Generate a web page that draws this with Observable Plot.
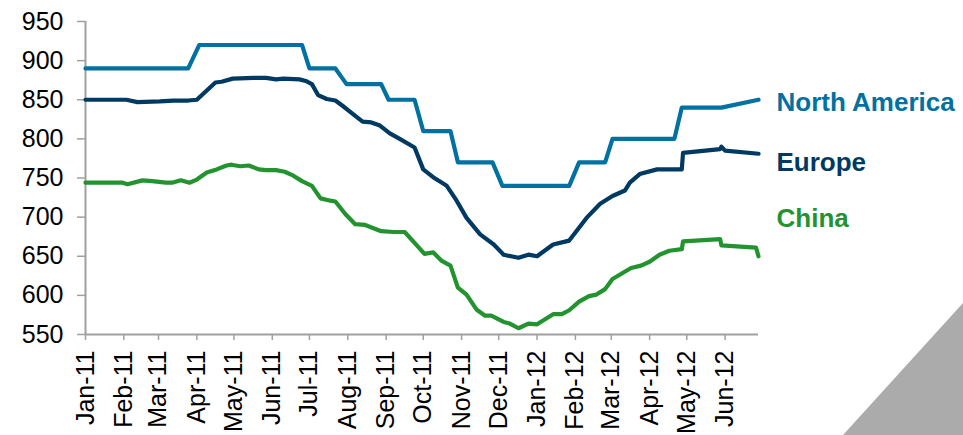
<!DOCTYPE html>
<html>
<head>
<meta charset="utf-8">
<script src="https://cdn.jsdelivr.net/npm/d3@7"></script>
<script src="https://cdn.jsdelivr.net/npm/@observablehq/plot@0.6"></script>
<style>
  html, body { margin: 0; padding: 0; background: #fff; }
  #wrap { position: relative; width: 963px; height: 435px; overflow: hidden; }
  #corner { position: absolute; left: 0; top: 0; width: 963px; height: 435px; background: #ABABAB;
            clip-path: polygon(963px 303px, 963px 435px, 843px 435px); pointer-events: none; }
  svg { display: block; }
</style>
</head>
<body>
<div id="wrap"><div id="chart"></div><div id="corner"></div></div>
<script>
// Series names and colours
const seriesNames = ["North America", "Europe", "China"];
const seriesColors = ["#0071A1", "#003A63", "#22932F"];

// North America (vertices)
const naDates = ["2011-01-01","2011-03-25","2011-04-03","2011-06-25","2011-07-01","2011-07-22","2011-07-31",
  "2011-08-28","2011-09-03","2011-09-24","2011-10-01","2011-10-23","2011-10-29","2011-11-26","2011-12-04",
  "2012-01-27","2012-02-04","2012-02-25","2012-03-02","2012-04-21","2012-04-27","2012-05-29","2012-06-28"];
const naValues = [890,890,920,920,890,890,870,870,850,850,810,810,770,770,740,740,770,770,800,800,840,840,850];

// Europe (vertices)
const euDates = ["2011-01-01","2011-02-03","2011-02-12","2011-03-02","2011-03-13","2011-03-25","2011-04-01",
  "2011-04-16","2011-04-21","2011-04-30","2011-05-17","2011-05-27","2011-06-04","2011-06-10","2011-06-23",
  "2011-06-28","2011-07-03","2011-07-08","2011-07-15","2011-07-22","2011-07-28","2011-08-05","2011-08-13",
  "2011-08-20","2011-08-27","2011-09-04","2011-09-12","2011-09-24","2011-10-01","2011-10-09","2011-10-20",
  "2011-10-28","2011-11-05","2011-11-16","2011-11-27","2011-12-05","2011-12-17","2011-12-25","2012-01-01",
  "2012-01-14","2012-01-27","2012-02-10","2012-02-21","2012-03-02","2012-03-12","2012-03-16","2012-03-24",
  "2012-04-07","2012-04-27","2012-04-28","2012-05-28","2012-05-29","2012-06-01","2012-06-28"];
const euValues = [850,850,847,848,849,849,850,872,873,877,878,878,876,877,876,874,870,856,851,849,842,832,822,
  821,817,807,800,789,761,751,740,721,699,678,665,652,648,652,650,665,670,699,717,727,734,744,755,761,761,
  782,787,790,785,781];

// China (vertices)
const cnDates = ["2011-01-01","2011-01-31","2011-02-04","2011-02-16","2011-02-24","2011-03-07","2011-03-12",
  "2011-03-19","2011-03-26","2011-04-01","2011-04-09","2011-04-17","2011-04-25","2011-04-29","2011-05-06",
  "2011-05-13","2011-05-21","2011-05-27","2011-06-04","2011-06-11","2011-06-18","2011-06-25","2011-07-03",
  "2011-07-10","2011-07-18","2011-07-22","2011-07-30","2011-08-07","2011-08-15","2011-08-28","2011-09-07",
  "2011-09-16","2011-09-24","2011-10-02","2011-10-09","2011-10-16","2011-10-23","2011-10-29","2011-11-05",
  "2011-11-13","2011-11-20","2011-11-25","2011-12-05","2011-12-10","2011-12-17","2011-12-25","2012-01-01",
  "2012-01-14","2012-01-21","2012-01-27","2012-02-04","2012-02-12","2012-02-18","2012-02-25","2012-03-02",
  "2012-03-17","2012-03-25","2012-04-01","2012-04-09","2012-04-17","2012-04-27","2012-04-28","2012-05-28",
  "2012-05-29","2012-06-26","2012-06-28"];
const cnValues = [744,744,742,747,746,744,744,747,744,748,757,761,766,767,765,766,761,760,760,758,753,746,740,
  724,721,720,704,691,690,682,681,681,667,653,655,644,638,610,601,582,574,574,566,564,558,564,563,576,576,
  581,592,599,601,608,621,635,638,643,652,657,659,669,672,664,661,650];

// Series label positions (value level of each label)
const labelValues = [846, 769, 698];

// Axis ticks
const yTicks = [550, 600, 650, 700, 750, 800, 850, 900, 950];
const xTickDates = ["2011-01-01","2011-02-01","2011-03-01","2011-04-01","2011-05-01","2011-06-01","2011-07-01",
  "2011-08-01","2011-09-01","2011-10-01","2011-11-01","2011-12-01","2012-01-01","2012-02-01","2012-03-01",
  "2012-04-01","2012-05-01","2012-06-01"];
const xTickLabels = ["Jan-11","Feb-11","Mar-11","Apr-11","May-11","Jun-11","Jul-11","Aug-11","Sep-11","Oct-11",
  "Nov-11","Dec-11","Jan-12","Feb-12","Mar-12","Apr-12","May-12","Jun-12"];
const xDomain = ["2011-01-01", "2012-06-28"];

const parse = d3.utcParse("%Y-%m-%d");
const rows = [];
[[naDates, naValues], [euDates, euValues], [cnDates, cnValues]].forEach(([ds, vs], k) => {
  ds.forEach((d, i) => rows.push({series: seriesNames[k], date: parse(d), value: vs[i]}));
});
const endDate = parse(xDomain[1]);
const labels = seriesNames.map((s, i) => ({series: s, date: endDate, value: labelValues[i]}));
const tickDates = xTickDates.map(parse);
const tickLabelMap = new Map(tickDates.map((d, i) => [+d, xTickLabels[i]]));

const axisColor = "#A0A0A0";
const chart = Plot.plot({
  width: 963,
  height: 435,
  marginLeft: 85,
  marginRight: 205,
  marginTop: 21,
  marginBottom: 101,
  style: {fontFamily: "'Liberation Sans', Arial, sans-serif", fontSize: "25px", background: "transparent", color: "#000"},
  x: {type: "utc", domain: xDomain.map(parse)},
  y: {domain: [550, 950]},
  color: {domain: seriesNames, range: seriesColors},
  marks: [
    Plot.axisY({ticks: yTicks, tickSize: 8, tickPadding: 14, label: null, stroke: axisColor, strokeWidth: 1.5, fill: "#000", fontSize: 25}),
    Plot.axisX({ticks: tickDates, tickFormat: d => tickLabelMap.get(+d), tickRotate: -90, tickSize: 6, tickPadding: 10,
                label: null, stroke: axisColor, strokeWidth: 1.5, fill: "#000", fontSize: 25}),
    Plot.ruleX([parse(xDomain[0])], {stroke: axisColor, strokeWidth: 2}),
    Plot.ruleY([550], {stroke: axisColor, strokeWidth: 2}),
    Plot.line(rows, {x: "date", y: "value", z: "series", stroke: "series", strokeWidth: 4.2,
                     strokeLinejoin: "round", strokeLinecap: "round"}),
    Plot.text(labels, {x: "date", y: "value", text: "series", fill: "series", dx: 18, textAnchor: "start",
                       fontWeight: "bold", fontSize: 26})
  ]
});
document.getElementById("chart").appendChild(chart);
</script>
</body>
</html>
